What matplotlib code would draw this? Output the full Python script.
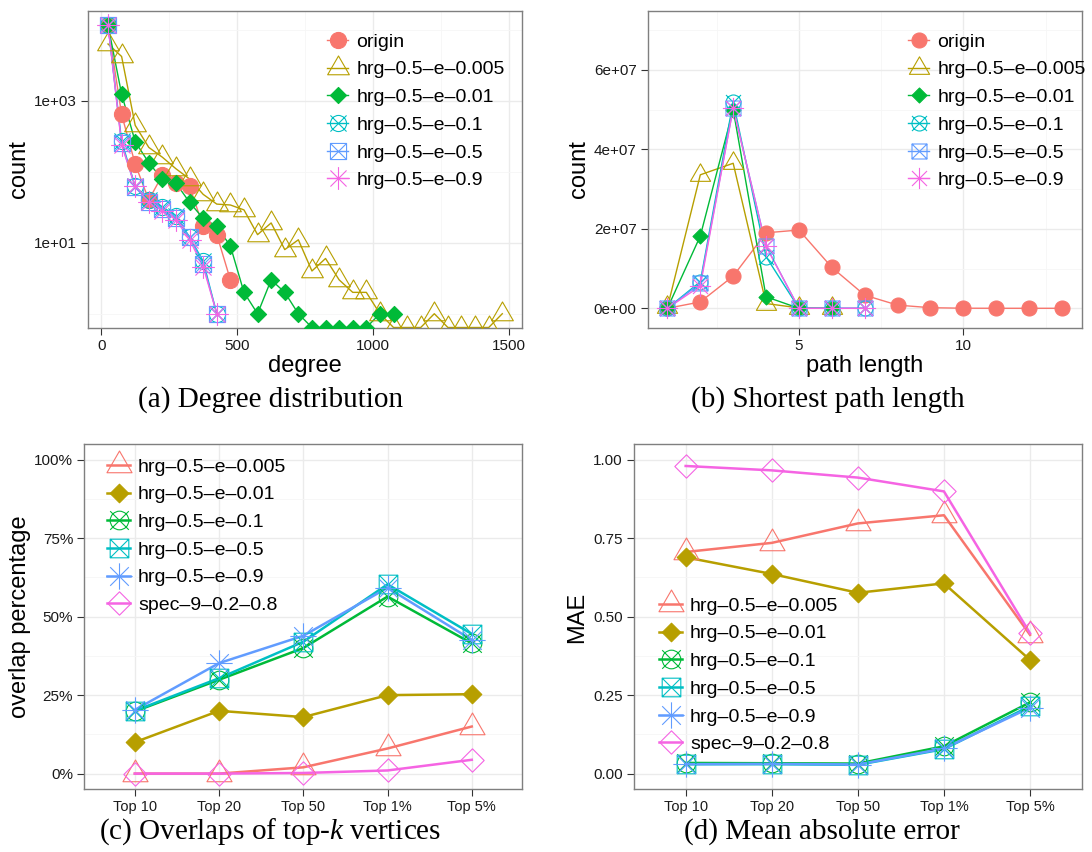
"""Four-panel comparison of origin graph vs HRG / spectral samples (ggplot look)."""
import matplotlib
matplotlib.use("Agg")
import matplotlib.pyplot as plt
import numpy as np
from matplotlib.lines import Line2D
from matplotlib.path import Path
from matplotlib.ticker import FixedLocator, NullFormatter

plt.rcParams["font.family"] = ["Liberation Sans", "DejaVu Sans"]
plt.rcParams["mathtext.fontset"] = "custom"
plt.rcParams["mathtext.rm"] = "Liberation Serif"
plt.rcParams["mathtext.it"] = "Liberation Serif:italic"

# --- (a) degree distribution: bin centres and counts (0 = empty bin) ---
degree_bins = [25, 75, 125, 175, 225, 275, 325, 375, 425, 475,
               525, 575, 625, 675, 725, 775, 825, 875, 925, 975,
               1025, 1075, 1125, 1175, 1225, 1275, 1325, 1375, 1425, 1475]
deg_origin = [11500, 640, 128, 40, 90, 70, 62, 17, 13, 3]
deg_e0005 = [6300, 4200, 450, 220, 160, 110, 79, 48, 35, 34,
             29, 13, 19, 8, 11, 4, 6, 3, 2, 2,
             1, 0, 0, 0, 1, 0, 0, 0, 0, 1]
deg_e001 = [11600, 1240, 265, 134, 78, 69, 37, 22, 17, 9,
            2, 1, 3, 2, 1, 0, 0, 0, 0, 0, 1, 1]
deg_e01 = [11600, 270, 62, 40, 32, 24, 12, 5.5, 1]
deg_e05 = [11600, 250, 60, 38, 30, 22, 12, 5.0, 1]
deg_e09 = [11800, 240, 62, 38, 28, 21, 11, 4.6, 1]

# --- (b) shortest path length counts ---
path_len = [1, 2, 3, 4, 5, 6, 7, 8, 9, 10, 11, 12, 13]
spl_origin = [0, 1.6e6, 8.1e6, 1.9e7, 1.97e7, 1.03e7, 3.3e6, 8e5, 1.5e5, 2e4, 0, 0, 0]
spl_e0005 = [2e5, 3.36e7, 3.65e7, 1.2e6, 1e5, 0]
spl_e001 = [0, 1.82e7, 5.0e7, 2.9e6, 0, 0]
spl_e01 = [0, 6.7e6, 5.2e7, 1.3e7, 0, 0, 0]
spl_e05 = [0, 6.3e6, 5.04e7, 1.57e7, 0, 0, 0]
spl_e09 = [0, 5.6e6, 5.04e7, 1.56e7, 0, 0, 0]

# --- (c) overlap of top-k vertices, (d) mean absolute error ---
topk = ["Top 10", "Top 20", "Top 50", "Top 1%", "Top 5%"]
ovl_e0005 = [0.0, 0.0, 0.02, 0.08, 0.15]
ovl_e001 = [0.10, 0.20, 0.18, 0.25, 0.253]
ovl_e01 = [0.198, 0.299, 0.40, 0.564, 0.415]
ovl_e05 = [0.20, 0.304, 0.42, 0.603, 0.445]
ovl_e09 = [0.203, 0.352, 0.439, 0.592, 0.426]
ovl_spec = [0.0, 0.0, 0.002, 0.01, 0.044]

mae_e0005 = [0.706, 0.735, 0.797, 0.823, 0.442]
mae_e001 = [0.689, 0.636, 0.576, 0.606, 0.362]
mae_e01 = [0.034, 0.033, 0.032, 0.087, 0.227]
mae_e05 = [0.030, 0.030, 0.028, 0.078, 0.215]
mae_e09 = [0.030, 0.031, 0.029, 0.080, 0.210]
mae_spec = [0.980, 0.966, 0.943, 0.899, 0.447]

HRG = ["hrg\u20130.5\u2013e\u20130.005", "hrg\u20130.5\u2013e\u20130.01",
       "hrg\u20130.5\u2013e\u20130.1", "hrg\u20130.5\u2013e\u20130.5",
       "hrg\u20130.5\u2013e\u20130.9"]
SPEC = "spec\u20139\u20130.2\u20130.8"
HUE = ["#F8766D", "#B79F00", "#00BA38", "#00BFC4", "#619CFF", "#F564E3"]

# --- R-like point shapes as marker paths (unit = symbol radius) ---
T0, T1, T2 = 1.5551, 1.3468, 0.7776
S2 = np.sqrt(2)
DM = 1.2533


def seg(a, b):
    return Path([a, b], [Path.MOVETO, Path.LINETO])


CROSS = [seg((-1, -1), (1, 1)), seg((-1, 1), (1, -1))]
SHAPES = {
    "circle": (Path.unit_circle(), 1.0, True),
    "triangle": (Path([(0, T0), (T1, -T2), (-T1, -T2), (0, T0)], closed=True), T0, False),
    "diamond": (Path([(0, 1), (1, 0), (0, -1), (-1, 0), (0, 1)], closed=True), 1.0, True),
    "circle_x": (Path.make_compound_path(Path.unit_circle(), *CROSS), 1.0, False),
    "square_x": (Path.make_compound_path(
        Path([(-1, -1), (1, -1), (1, 1), (-1, 1), (-1, -1)], closed=True), *CROSS), 1.0, False),
    "asterisk": (Path.make_compound_path(*CROSS, seg((-S2, 0), (S2, 0)),
                                         seg((0, -S2), (0, S2))), S2, False),
    "diamond_o": (Path([(0, DM), (DM, 0), (0, -DM), (-DM, 0), (0, DM)], closed=True), DM, False),
}


def mstyle(shape, color, r):
    path, ext, filled = SHAPES[shape]
    return dict(marker=path, markersize=2 * ext * r,
                markerfacecolor=color if filled else "none",
                markeredgecolor=color, markeredgewidth=0.8)


W, H = 1092, 852
fig = plt.figure(figsize=(W / 100, H / 100), dpi=100)
fig.patch.set_facecolor("white")


def px_axes(left, top, right, bottom):
    return fig.add_axes([left / W, 1 - bottom / H, (right - left) / W, (bottom - top) / H])


def style_axes(ax):
    for sp in ax.spines.values():
        sp.set_color("#7F7F7F")
        sp.set_linewidth(1.0)
    ax.grid(which="major", color="#EBEBEB", linewidth=1.0)
    ax.grid(which="minor", color="#F6F6F6", linewidth=0.6)
    ax.set_axisbelow(True)
    ax.tick_params(which="major", direction="out", length=5, width=0.8,
                   color="#333333", labelsize=11, labelcolor="#1A1A1A", pad=3)
    ax.tick_params(which="minor", length=0)


def draw(ax, x, y, color, shape, r, lw):
    ax.plot(x, y, color=color, linewidth=lw, zorder=2)
    ax.plot(x, y, linestyle="none", zorder=3, **mstyle(shape, color, r))
    return Line2D([], [], color=color, linewidth=lw, **mstyle(shape, color, r))


def legend(ax, handles, labels, key_left, top, hl):
    ax.legend(handles, labels, loc="upper left",
              bbox_to_anchor=(key_left / W, 1 - top / H), bbox_transform=fig.transFigure,
              frameon=False, borderpad=0, borderaxespad=0, handlelength=hl,
              handletextpad=0.4, labelspacing=0.52, prop={"size": 14})


def ftext(x, y, s, **kw):
    fig.text(x / W, 1 - y / H, s, ha="center", va="center", **kw)


SHAPES_AB = ["circle", "triangle", "diamond", "circle_x", "square_x", "asterisk"]
SHAPES_CD = ["triangle", "diamond", "circle_x", "square_x", "asterisk", "diamond_o"]
LABELS_AB = ["origin"] + HRG
LABELS_CD = HRG + [SPEC]

# --- (a) ---
ax = px_axes(88.3, 10.7, 522, 327.5)
style_axes(ax)
ax.set_yscale("log")
y_lo, y_hi = 10 ** -0.194, 10 ** 4.268
handles = []
for counts, color, shape in zip([deg_origin, deg_e0005, deg_e001, deg_e01, deg_e05, deg_e09],
                                HUE, SHAPES_AB):
    c = np.array(counts, dtype=float)
    y = np.where(c > 0, c, y_lo)  # empty bins sit on the panel edge, like ggplot's -Inf
    handles.append(draw(ax, degree_bins[:len(c)], y, color, shape, 5.8, 1.0))
ax.set_xlim(-47.5, 1547.5)
ax.set_ylim(y_lo, y_hi)
ax.xaxis.set_major_locator(FixedLocator([0, 500, 1000, 1500]))
ax.xaxis.set_minor_locator(FixedLocator([250, 750, 1250]))
ax.set_yticks([10, 1000], ["1e+01", "1e+03"])
ax.yaxis.set_minor_locator(FixedLocator([1, 100, 10000]))
ax.yaxis.set_minor_formatter(NullFormatter())
legend(ax, handles, LABELS_AB, 327, 33, 1.1)

# --- (b) ---
ax = px_axes(647.7, 10.7, 1081.7, 328)
style_axes(ax)
handles = []
for vals, color, shape in zip([spl_origin, spl_e0005, spl_e001, spl_e01, spl_e05, spl_e09],
                              HUE, SHAPES_AB):
    handles.append(draw(ax, path_len[:len(vals)], vals, color, shape, 5.4, 1.0))
ax.set_xlim(0.4, 13.6)
ax.set_ylim(-4.96e6, 7.49e7)
ax.xaxis.set_major_locator(FixedLocator([5, 10]))
ax.xaxis.set_minor_locator(FixedLocator([2.5, 7.5, 12.5]))
ax.set_yticks([0, 2e7, 4e7, 6e7], ["0e+00", "2e+07", "4e+07", "6e+07"])
ax.yaxis.set_minor_locator(FixedLocator([1e7, 3e7, 5e7, 7e7]))
legend(ax, handles, LABELS_AB, 908, 33, 1.1)

# --- (c) and (d) ---
panels = [
    ((84.3, 444, 522.3, 789.3), [ovl_e0005, ovl_e001, ovl_e01, ovl_e05, ovl_e09, ovl_spec],
     ["0%", "25%", "50%", "75%", "100%"], (107, 458)),
    ((634, 444, 1081.7, 789.3), [mae_e0005, mae_e001, mae_e01, mae_e05, mae_e09, mae_spec],
     ["0.00", "0.25", "0.50", "0.75", "1.00"], (659, 597)),
]
for box, series, ylabels, (lx, ly) in panels:
    ax = px_axes(*box)
    style_axes(ax)
    handles = []
    for vals, color, shape in zip(series, HUE, SHAPES_CD):
        handles.append(draw(ax, topk, vals, color, shape, 6.7, 1.8))
    ax.set_xlim(-0.6, 4.6)
    ax.set_ylim(-0.05, 1.05)
    ax.set_yticks([0, 0.25, 0.5, 0.75, 1.0], ylabels)
    ax.yaxis.set_minor_locator(FixedLocator([0.125, 0.375, 0.625, 0.875]))
    ax.tick_params(axis="x", labelsize=10.5)
    legend(ax, handles, LABELS_CD, lx, ly, 1.2)

# --- axis titles and sub-captions ---
ftext(19.5, 169, "count", rotation=90, fontsize=17)
ftext(305, 366, "degree", fontsize=17)
ftext(579, 169, "count", rotation=90, fontsize=17)
ftext(865, 366, "path length", fontsize=17)
ftext(20.5, 617, "overlap percentage", rotation=90, fontsize=17)
ftext(577, 617, "MAE", rotation=90, fontsize=17)

cap = dict(fontsize=21, family="Liberation Serif")
ftext(271, 400, "(a) Degree distribution", **cap)
ftext(828, 400, "(b) Shortest path length", **cap)
ftext(270, 832, "(c) Overlaps of top-$k$ vertices", **cap)
ftext(822, 832, "(d) Mean absolute error", **cap)

fig.savefig("out.png", dpi=100, facecolor="white")
